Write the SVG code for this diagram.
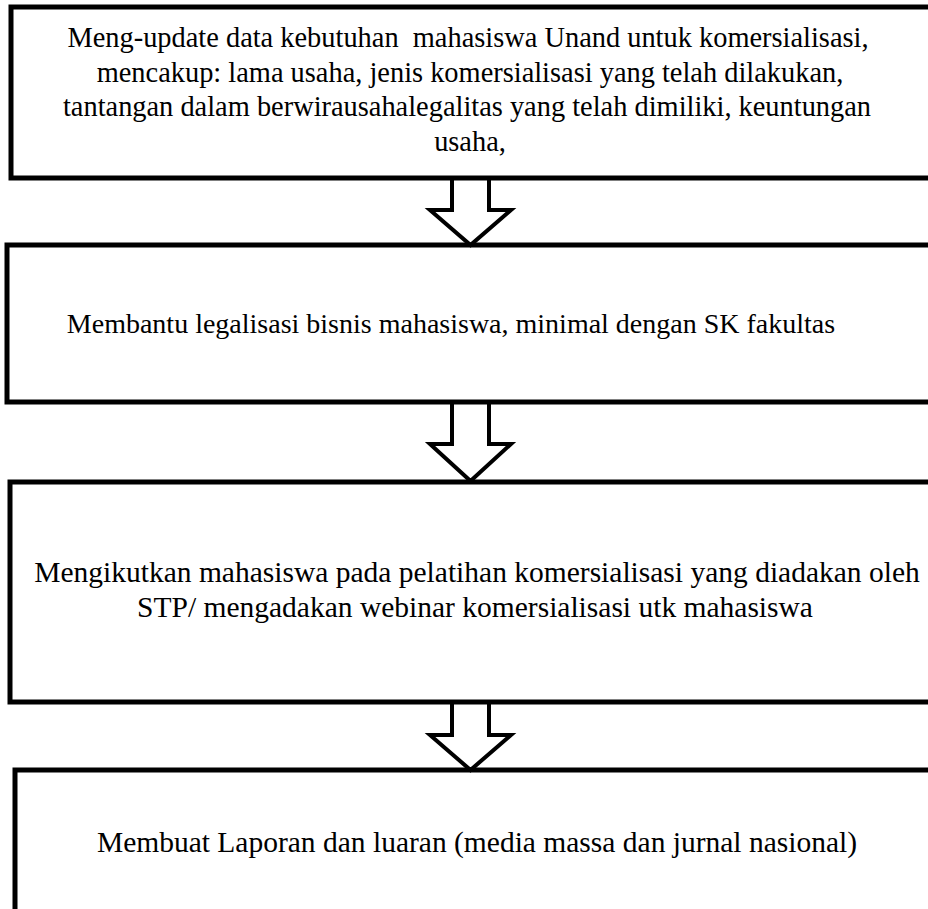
<svg xmlns="http://www.w3.org/2000/svg" width="928" height="909" viewBox="0 0 928 909">
<style>
.box{fill:none;stroke:#000;stroke-width:5}
.arr{fill:#fff;stroke:#000;stroke-width:4;stroke-linejoin:miter}
text{font-family:"Liberation Serif","Times New Roman",serif;fill:#000;text-anchor:middle}
.t1{font-size:28.4px}
.t2{font-size:28px}
.t3{font-size:29.5px}
</style>
<rect width="928" height="909" fill="#fff"/>
<g id="connectors">
<path class="arr" d="M452,178 V210 H430 L470.5,245 L511,210 H489 V178"/>
<path class="arr" d="M452,402 V444 H430 L470.5,481 L511,444 H489 V402"/>
<path class="arr" d="M452,703 V735 H430 L470.5,770 L511,735 H489 V703"/>
</g>
<g id="node1">
<rect class="box" x="11" y="7" width="940" height="171"/>
<text class="t1" xml:space="preserve" x="468" y="47">Meng-update data kebutuhan  mahasiswa Unand untuk komersialisasi,</text>
<text class="t1" x="470" y="81.5">mencakup: lama usaha, jenis komersialisasi yang telah dilakukan,</text>
<text class="t1" x="467" y="116">tantangan dalam berwirausahalegalitas yang telah dimiliki, keuntungan</text>
<text class="t1" x="470" y="150.5">usaha,</text>
</g>
<g id="node2">
<rect class="box" x="7" y="245" width="940" height="157"/>
<text class="t2" x="451" y="333">Membantu legalisasi bisnis mahasiswa, minimal dengan SK fakultas</text>
</g>
<g id="node3">
<rect class="box" x="10" y="482" width="940" height="220"/>
<text class="t3" x="477" y="582">Mengikutkan mahasiswa pada pelatihan komersialisasi yang diadakan oleh</text>
<text class="t3" x="475" y="617">STP/ mengadakan webinar komersialisasi utk mahasiswa</text>
</g>
<g id="node4">
<rect class="box" x="15" y="770" width="940" height="160"/>
<text class="t3" x="477" y="852">Membuat Laporan dan luaran (media massa dan jurnal nasional)</text>
</g>
</svg>
